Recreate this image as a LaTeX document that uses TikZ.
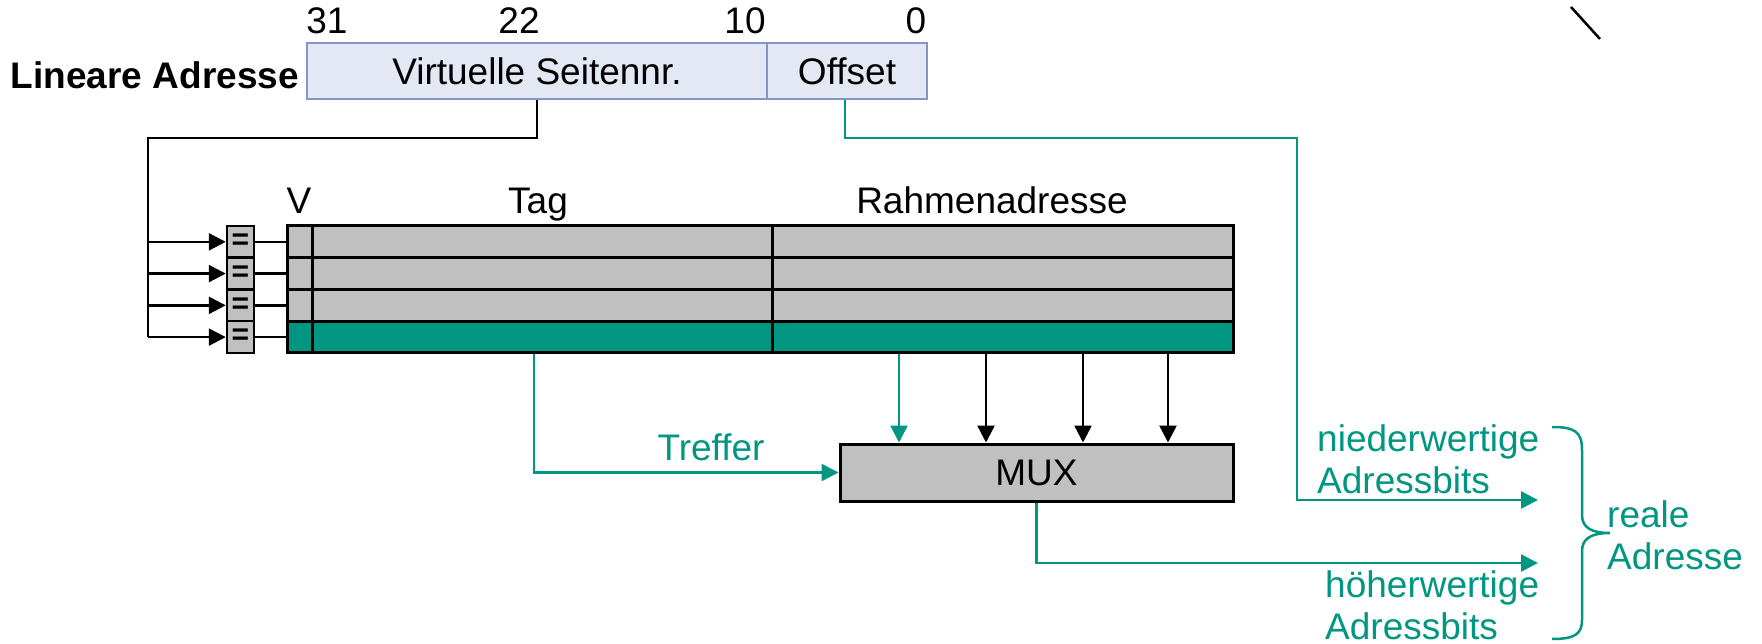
\documentclass[tikz,border=0pt]{standalone}
\usepackage{fontspec}
\setmainfont{Liberation Sans}
\usepackage{xcolor}
\definecolor{kitgreen}{RGB}{0, 150, 130}
\definecolor{cellgray}{RGB}{192, 192, 192}
\definecolor{addrfill}{RGB}{228, 232, 244}
\definecolor{addrdraw}{RGB}{130, 150, 200}
\usepackage{tikz}
\usetikzlibrary{arrows.meta}
\tikzstyle{field} = [shape=rectangle, draw=addrdraw, fill=addrfill, line width=2.5pt, inner sep=0pt, minimum height=56pt]
\tikzstyle{cell} = [shape=rectangle, draw=black, fill=cellgray, line width=3pt, inner sep=0pt, minimum height=31.75pt]
\tikzstyle{txt} = [inner sep=0pt]
\tikzstyle{line} = [line width=2.5pt]
\tikzstyle{wire} = [line width=2.5pt, -{Triangle[length=17pt, width=17pt]}]
\tikzstyle{hit} = [wire, draw=kitgreen]

\begin{document}
\begin{tikzpicture}[
    x=1pt, y=-1pt,
    every node/.style={font=\fontsize{37}{42}\selectfont}
]
  \useasboundingbox (0,0) rectangle (1762,644);

  \node[txt, anchor=base] (b31) at (327,34) {31};
  \node[txt, anchor=base] (b22) at (519,34) {22};
  \node[txt, anchor=base] (b10) at (745,34) {10};
  \node[txt, anchor=base] (b0) at (916,34) {0};
  \node[txt, anchor=base east] (lin) at (299,89) {\bfseries Lineare Adresse};
  \node[field, minimum width=460pt] (vsn) at (537,71) {Virtuelle Seitennr.};
  \node[field, minimum width=160pt] (off) at (847,71) {Offset};

  \node[txt, anchor=base] (hv) at (299,214) {V};
  \node[txt, anchor=base] (htag) at (538,214) {Tag};
  \node[txt, anchor=base] (hra) at (992,214) {Rahmenadresse};

  \coordinate (bus) at (148,138);
  \foreach \i/\f in {1/cellgray, 2/cellgray, 3/cellgray, 4/kitgreen} {
    \node[cell, line width=2.5pt, minimum width=27pt, font=\fontsize{30}{30}\selectfont\bfseries] (cmp\i) at (240.5,{210.1+31.75*\i}) {=};
    \node[cell, fill=\f, minimum width=25pt] (v\i) at (299.5,{210.1+31.75*\i}) {};
    \node[cell, fill=\f, minimum width=460pt] (tag\i) at (542,{210.1+31.75*\i}) {};
    \node[cell, fill=\f, minimum width=461pt] (ra\i) at (1002.5,{210.1+31.75*\i}) {};
    \draw[line] (cmp\i) -- (v\i);
    \draw[wire] (bus |- cmp\i) -- (cmp\i);
  }
  \draw[line] (vsn.south) |- (bus) -- (bus |- cmp4);

  \node[cell, minimum width=393pt, minimum height=57pt] (mux) at (1036.5,472.5) {MUX};
  \node[txt, text=kitgreen] (treffer) at (711,447) {Treffer};
  \draw[hit] ([xshift=-8pt]tag4.south) |- (mux.west);
  \foreach \d/\s in {-103.5/hit, -16.5/wire, 80.5/wire, 165.5/wire} {
    \coordinate (src) at ([xshift=\d pt]ra4.south);
    \draw[\s] (src) -- (src |- mux.north);
  }

  \coordinate (lobend) at (1297,138);
  \coordinate (loend) at (1538,500);
  \coordinate (hiend) at (1538,563);
  \draw[hit] ([xshift=-2pt]off.south) |- (lobend) |- (loend);
  \draw[hit] (mux.south) |- (hiend);

  \node[txt, text=kitgreen, align=left, anchor=west] (nieder) at (1317,459) {niederwertige\\Adressbits};
  \node[txt, text=kitgreen, align=left, anchor=west] (hoeher) at (1325,605) {höherwertige\\Adressbits};
  \node[txt, text=kitgreen, align=left, anchor=west] (real) at (1607,535) {reale\\Adresse};
  \draw[line, kitgreen] (1552,427) .. controls (1575,427) and (1582,432) .. (1582,450) -- (1582,515)
    .. controls (1582,528) and (1592,533) .. (1610,533)
    .. controls (1592,533) and (1582,538) .. (1582,551) -- (1582,620)
    .. controls (1582,634) and (1575,639) .. (1552,639);

  \draw[line] (1571,7) -- (1600,39);
\end{tikzpicture}
\end{document}
